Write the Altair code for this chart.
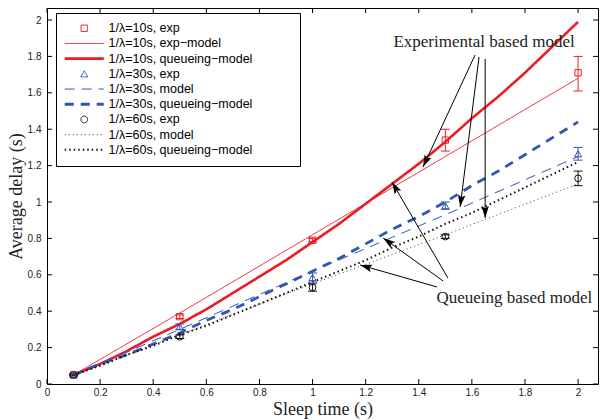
import math
import altair as alt
import pandas as pd

# ---------------- data ----------------
LABELS = [
    "1/λ=10s, exp", "1/λ=10s, exp−model", "1/λ=10s, queueing−model",
    "1/λ=30s, exp", "1/λ=30s, model", "1/λ=30s, queueing−model",
    "1/λ=60s, exp", "1/λ=60s, model", "1/λ=60s, queueing−model",
]
RED, BLUE, BLACK = "#ec1c24", "#3355b3", "#111111"
LINE_SYM = "M-5,0H5"
COLORS = [RED, RED, RED, BLUE, BLUE, BLUE, BLACK, "#444444", BLACK]
SHAPES = ["square", LINE_SYM, LINE_SYM, "triangle-up", LINE_SYM, LINE_SYM, "circle", LINE_SYM, LINE_SYM]
DASHES = [[1, 0], [1, 0], [1, 0], [1, 0], [10, 7], [9, 7], [1, 0], [1, 3], [1.5, 3]]
WIDTHS = [1, 1, 2.6, 1, 1, 2.8, 1, 1, 2]
SIZES = [40, 61, 61, 50, 61, 61, 45, 61, 61]

# queueing-model curves
qx = [0.1, 0.2, 0.3, 0.4, 0.5, 0.6, 0.7, 0.8, 0.9, 1.0,
      1.1, 1.2, 1.3, 1.4, 1.5, 1.6, 1.7, 1.8, 1.9, 2.0]
red_q = [0.05, 0.11, 0.18, 0.26, 0.33, 0.41, 0.50, 0.59, 0.68, 0.78,
         0.88, 0.99, 1.10, 1.21, 1.33, 1.46, 1.58, 1.71, 1.85, 1.99]
blue_q = [0.05, 0.11, 0.16, 0.22, 0.28, 0.35, 0.41, 0.48, 0.55, 0.62,
          0.69, 0.77, 0.85, 0.92, 1.00, 1.09, 1.17, 1.26, 1.35, 1.44]
black_q = [0.05, 0.10, 0.16, 0.21, 0.27, 0.32, 0.38, 0.44, 0.50, 0.56,
           0.62, 0.68, 0.75, 0.81, 0.88, 0.94, 1.01, 1.08, 1.15, 1.22]

# experimental-based models (straight lines)
mx = [0.1, 0.5, 1.0, 1.5, 2.0]
red_m = [0.05, 0.39, 0.82, 1.25, 1.68]
blue_m = [0.05, 0.30, 0.62, 0.93, 1.25]
black_m = [0.05, 0.27, 0.55, 0.82, 1.10]

# experiments with error bars
ex = [0.1, 0.5, 1.0, 1.5, 2.0]
red_e = [0.05, 0.37, 0.79, 1.34, 1.71]
red_lo = [0.045, 0.36, 0.78, 1.28, 1.61]
red_hi = [0.055, 0.38, 0.80, 1.40, 1.80]
blue_e = [0.05, 0.315, 0.585, 0.98, 1.265]
blue_lo = [0.045, 0.30, 0.56, 0.96, 1.23]
blue_hi = [0.055, 0.33, 0.61, 1.00, 1.30]
black_e = [0.05, 0.26, 0.53, 0.81, 1.13]
black_lo = [0.045, 0.25, 0.51, 0.80, 1.09]
black_hi = [0.055, 0.27, 0.55, 0.82, 1.17]

xticks = [0, 0.2, 0.4, 0.6, 0.8, 1, 1.2, 1.4, 1.6, 1.8, 2]
yticks = [0, 0.2, 0.4, 0.6, 0.8, 1, 1.2, 1.4, 1.6, 1.8, 2]

# annotations (data units)
ann_text = ["Experimental based model", "Queueing based model"]
ann_x = [1.646, 1.76]
ann_y = [1.88, 0.47]
arr_x0 = [1.612, 1.627, 1.650, 1.469, 1.492, 1.510]
arr_y0 = [1.808, 1.797, 1.786, 0.533, 0.566, 0.582]
arr_x1 = [1.416, 1.556, 1.650, 1.179, 1.266, 1.299]
arr_y1 = [1.192, 0.973, 0.912, 0.654, 0.802, 1.110]

# ---------------- layout ----------------
W, H = 551, 376
XMAX, YMAX = 2.075, 2.066

rows = []
for lab, xs, ys in [(LABELS[1], mx, red_m), (LABELS[2], qx, red_q),
                    (LABELS[4], mx, blue_m), (LABELS[5], qx, blue_q),
                    (LABELS[7], mx, black_m), (LABELS[8], qx, black_q)]:
    for i, (a, b) in enumerate(zip(xs, ys)):
        rows.append({"x": a, "y": b, "series": lab, "order": i})
lines_df = pd.DataFrame(rows)

prow = []
for lab, ys, lo, hi in [(LABELS[0], red_e, red_lo, red_hi),
                        (LABELS[3], blue_e, blue_lo, blue_hi),
                        (LABELS[6], black_e, black_lo, black_hi)]:
    for a, b, l, h in zip(ex, ys, lo, hi):
        prow.append({"x": a, "y": b, "lo": l, "hi": h, "series": lab})
pts_df = pd.DataFrame(prow)

def ang(x0, y0, x1, y1):
    dxp = (x1 - x0) * W / XMAX
    dyp = -(y1 - y0) * H / YMAX
    return math.degrees(math.atan2(dxp, -dyp)) % 360

arr_df = pd.DataFrame({
    "x0": arr_x0, "y0": arr_y0, "x1": arr_x1, "y1": arr_y1,
    "ang": [ang(a, b, c, d) for a, b, c, d in zip(arr_x0, arr_y0, arr_x1, arr_y1)],
})
ann_df = pd.DataFrame({"t": ann_text, "x": ann_x, "y": ann_y})
xt_df = pd.DataFrame({"v": xticks})
yt_df = pd.DataFrame({"v": yticks})

xscale = alt.Scale(domain=[0, XMAX], nice=False, zero=False)
yscale = alt.Scale(domain=[0, YMAX], nice=False, zero=False)

# keep the legend frame as wide as the reference's (blank room after the labels)
PAD = "\u00a0" * 11 + "\u200b"
legend = alt.Legend(
    orient="none", legendX=9, legendY=5, title=None,
    fillColor="white", strokeColor="black", padding=9,
    labelFont="Liberation Sans", labelFontSize=12.5, labelColor="black",
    labelOffset=18, symbolOffset=13, rowPadding=2.2, labelLimit=400,
    symbolOpacity=1, symbolFillColor="transparent",
    labelExpr="datum.label + '" + PAD + "'",
)

stroke_enc = alt.Stroke("series:N", scale=alt.Scale(domain=LABELS, range=COLORS), legend=legend)
stroke_nolegend = alt.Stroke("series:N", scale=alt.Scale(domain=LABELS, range=COLORS), legend=None)
shape_enc = alt.Shape("series:N", scale=alt.Scale(domain=LABELS, range=SHAPES), legend=legend)
dash_enc = alt.StrokeDash("series:N", scale=alt.Scale(domain=LABELS, range=DASHES), legend=legend)
width_enc = alt.StrokeWidth("series:N", scale=alt.Scale(type="ordinal", domain=LABELS, range=WIDTHS),
                            legend=legend)
size_enc = alt.Size("series:N", scale=alt.Scale(type="ordinal", domain=LABELS, range=SIZES),
                    legend=legend)

xaxis = alt.Axis(values=xticks, format="~g", title="Sleep time (s)", ticks=False, domain=False,
                 grid=False, labelFlush=False, labelFont="Liberation Sans", labelFontSize=10,
                 labelColor="#222222", labelPadding=3, titleFont="Liberation Serif",
                 titleFontSize=18, titleFontWeight="normal", titleColor="#222222",
                 titleBaseline="alphabetic", titleY=30)
yaxis = alt.Axis(values=yticks, format="~g", title="Average delay (s)", ticks=False, domain=False,
                 grid=False, labelFlush=False, labelFont="Liberation Sans", labelFontSize=10,
                 labelColor="#222222", labelPadding=6, titleFont="Liberation Serif",
                 titleFontSize=18, titleFontWeight="normal", titleColor="#222222", titlePadding=2)

def X(f):
    return alt.X(f, scale=xscale, axis=xaxis)

def Y(f):
    return alt.Y(f, scale=yscale, axis=yaxis)

lines = alt.Chart(lines_df).mark_line(clip=True).encode(
    x=X("x:Q"), y=Y("y:Q"),
    stroke=stroke_enc, strokeDash=dash_enc, strokeWidth=width_enc,
    order="order:Q",
)

ebar = alt.Chart(pts_df).mark_rule(strokeWidth=1).encode(
    x=X("x:Q"), y=Y("lo:Q"), y2="hi:Q", stroke=stroke_nolegend,
)
cap_lo = alt.Chart(pts_df).mark_rule(strokeWidth=1, xOffset=-4.5, x2Offset=4.5).encode(
    x=X("x:Q"), x2="x:Q", y=Y("lo:Q"), stroke=stroke_nolegend,
)
cap_hi = alt.Chart(pts_df).mark_rule(strokeWidth=1, xOffset=-4.5, x2Offset=4.5).encode(
    x=X("x:Q"), x2="x:Q", y=Y("hi:Q"), stroke=stroke_nolegend,
)
points = alt.Chart(pts_df).mark_point(filled=False, strokeWidth=1, opacity=1).encode(
    x=X("x:Q"), y=Y("y:Q"),
    stroke=stroke_enc, shape=shape_enc, size=size_enc,
)

arrows = alt.Chart(arr_df).mark_rule(color="black", strokeWidth=1).encode(
    x=X("x0:Q"), y=Y("y0:Q"), x2="x1:Q", y2="y1:Q",
)
heads = alt.Chart(arr_df).mark_point(
    filled=True, color="black", opacity=1, size=225,
    shape="M0,0L-0.5,1.6L0,1.3L0.5,1.6Z",
).encode(
    x=X("x1:Q"), y=Y("y1:Q"),
    angle=alt.Angle("ang:Q", scale=None),
)
texts = alt.Chart(ann_df).mark_text(
    font="Liberation Serif", fontSize=17, color="#222222", align="center", baseline="middle",
).encode(
    x=X("x:Q"), y=Y("y:Q"), text="t:N",
)

tb = alt.Chart(xt_df).mark_rule(color="black").encode(
    x=X("v:Q"), y=alt.value(H), y2=alt.value(H - 5))
tt = alt.Chart(xt_df).mark_rule(color="black").encode(
    x=X("v:Q"), y=alt.value(0), y2=alt.value(5))
tl = alt.Chart(yt_df).mark_rule(color="black").encode(
    y=Y("v:Q"), x=alt.value(0), x2=alt.value(5))
tr = alt.Chart(yt_df).mark_rule(color="black").encode(
    y=Y("v:Q"), x=alt.value(W), x2=alt.value(W - 5))

chart = alt.layer(
    lines, ebar, cap_lo, cap_hi, points, arrows, heads, texts, tb, tt, tl, tr
).properties(
    width=W, height=H,
    autosize=alt.AutoSizeParams(type="none"),
    padding={"left": 47, "top": 8, "right": 2, "bottom": 36},
).configure_view(stroke="black", strokeWidth=1).configure_legend(symbolFillColor="transparent")

chart.save("out.html", embed_options={"renderer": "svg", "actions": False})
